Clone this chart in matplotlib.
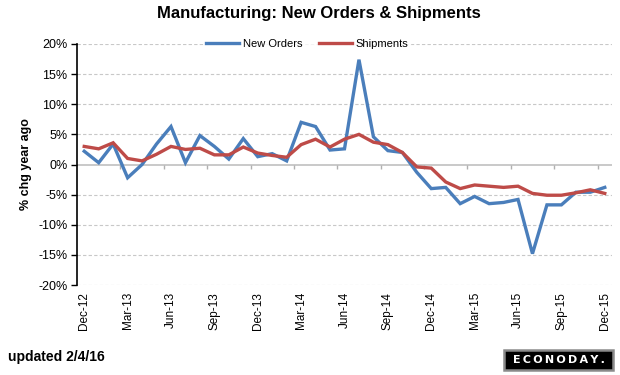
import matplotlib
matplotlib.use("Agg")
import matplotlib.pyplot as plt
from matplotlib.patches import Rectangle
import numpy as np

months = ["Dec-12", "Jan-13", "Feb-13", "Mar-13", "Apr-13", "May-13", "Jun-13", "Jul-13",
          "Aug-13", "Sep-13", "Oct-13", "Nov-13", "Dec-13", "Jan-14", "Feb-14", "Mar-14",
          "Apr-14", "May-14", "Jun-14", "Jul-14", "Aug-14", "Sep-14", "Oct-14", "Nov-14",
          "Dec-14", "Jan-15", "Feb-15", "Mar-15", "Apr-15", "May-15", "Jun-15", "Jul-15",
          "Aug-15", "Sep-15", "Oct-15", "Nov-15", "Dec-15"]
new_orders = [2.2, 0.3, 3.4, -2.2, 0.0, 3.4, 6.3, 0.3, 4.8, 3.0, 0.9, 4.3, 1.3, 1.8, 0.6, 7.0,
              6.3, 2.4, 2.6, 17.4, 4.6, 2.3, 2.0, -1.3, -4.0, -3.8, -6.5, -5.3, -6.5, -6.3,
              -5.8, -14.8, -6.7, -6.7, -4.6, -4.6, -3.8]
shipments = [3.0, 2.6, 3.6, 1.0, 0.6, 1.7, 3.0, 2.5, 2.7, 1.6, 1.6, 2.9, 1.9, 1.5, 1.2, 3.3,
             4.2, 2.9, 4.2, 5.0, 3.7, 3.3, 2.0, -0.4, -0.6, -2.9, -4.0, -3.4, -3.6, -3.8,
             -3.6, -4.8, -5.1, -5.1, -4.7, -4.2, -4.8]
y_ticks = [-20, -15, -10, -5, 0, 5, 10, 15, 20]
title = "Manufacturing: New Orders & Shipments"
series_names = ["New Orders", "Shipments"]
colors = ["#4a7ebb", "#be4b48"]

plt.rcParams['font.family'] = ['Liberation Sans', 'DejaVu Sans']

W, H = 620, 375
fig = plt.figure(figsize=(6.2, 3.75), dpi=100)
ax = fig.add_axes([77/W, 1-285/H, (612-77)/W, (285-44)/H])

x = np.arange(len(months))
ax.plot(x, new_orders, color=colors[0], lw=2.4, label=series_names[0], solid_joinstyle='miter', zorder=3)
ax.plot(x, shipments, color=colors[1], lw=2.4, label=series_names[1], solid_joinstyle='miter', zorder=4)

ax.set_xlim(-0.5, len(months) - 0.5)
ax.set_ylim(-20, 20)

# grid
for v in y_ticks:
    if v == 0:
        ax.axhline(v, color="#c0c0c0", lw=1.2, zorder=1)
    else:
        ax.axhline(v, color="#c8c8c8", lw=0.8, ls=(0, (3, 2)), zorder=1)

# tick marks on zero line between categories
tick_pos = np.arange(2.5, len(months) - 0.5, 3)
ax.vlines(tick_pos, -0.7, 0, color="#b0b0b0", lw=1, zorder=1)

ax.set_yticks(y_ticks)
ax.set_yticklabels([f"{v}%" for v in y_ticks], fontsize=9)
ax.tick_params(axis='y', direction='out', length=4, width=1, color='black', pad=3)

ax.set_xticks(x[::3])
ax.set_xticklabels(months[::3], rotation=90, fontsize=8.5)
ax.tick_params(axis='x', length=0, pad=5)

for s in ['top', 'right', 'bottom']:
    ax.spines[s].set_visible(False)
ax.spines['left'].set_color('black')
ax.spines['left'].set_linewidth(1.2)

ax.set_ylabel("% chg year ago", fontsize=9, fontweight='bold', labelpad=4)

leg = ax.legend(loc='upper center', bbox_to_anchor=(0.43, 1.03), ncol=2, frameon=True,
                fontsize=8, handlelength=3, columnspacing=1.5, handletextpad=0.3,
                borderpad=0.2, borderaxespad=0)
leg.get_frame().set_facecolor('white')
leg.get_frame().set_edgecolor('white')
leg.set_zorder(5)

fig.text(319/W, 1-13.5/H, title, ha='center', va='center', fontsize=12, fontweight='bold')
fig.text(8/W, 1-357.5/H, "updated 2/4/16", ha='left', va='center', fontsize=10, fontweight='bold')

# Econoday logo
fig.patches.append(Rectangle((504/W, 1-370/H), (613-504)/W, 20/H, transform=fig.transFigure,
                             facecolor='black', edgecolor='#8a8a8a', lw=1.8))
fig.text(558.5/W, 1-360/H, "\u2009".join("ECONODAY."), ha='center', va='center', fontsize=8,
         fontweight='bold', color='white', family=['DejaVu Sans'])

fig.savefig("out.png", dpi=100)
